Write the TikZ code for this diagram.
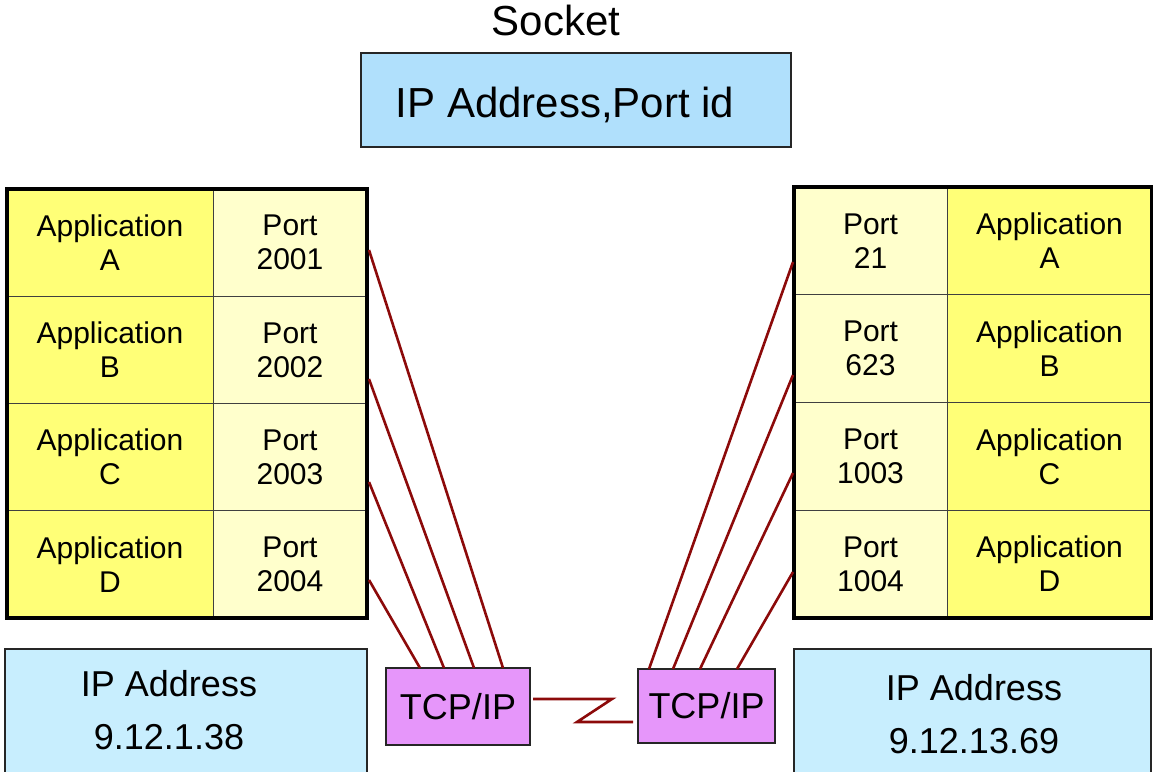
\documentclass[tikz,border=0pt]{standalone}
\usepackage{fontspec}
\setmainfont{Liberation Sans}
\usepackage{xcolor}
\usepackage{tikz}
\usetikzlibrary{positioning}

\begin{document}
\begin{tikzpicture}[x=1pt,y=-1pt]
\definecolor{skyb}{RGB}{176,224,252}
\definecolor{ipb}{RGB}{200,238,254}
\definecolor{appy}{RGB}{255,255,119}
\definecolor{porty}{RGB}{255,255,204}
\definecolor{tcpv}{RGB}{230,150,250}
\definecolor{wire}{RGB}{140,10,10}
\tikzset{
  cell/.style={draw=black!75,line width=1pt,inner sep=0pt,outer sep=0pt,align=center,font=\fontsize{30}{34}\selectfont},
  appL/.style={cell,fill=appy,minimum width=206pt,minimum height=107.25pt},
  portL/.style={cell,fill=porty,minimum width=154pt,minimum height=107.25pt},
  appR/.style={cell,fill=appy,minimum width=205pt,minimum height=107.75pt},
  portR/.style={cell,fill=porty,minimum width=153pt,minimum height=107.75pt},
  tblframe/.style={draw=black,line width=4.5pt},
  bluebox/.style={draw=black!85,line width=1.6pt,inner sep=0pt,outer sep=0pt},
  tcpbox/.style={draw=black!85,line width=2pt,fill=tcpv,inner sep=0pt,outer sep=0pt,font=\fontsize{36}{40}\selectfont},
  iptext/.style={align=center,font=\fontsize{36}{53}\selectfont},
  link/.style={wire,line width=2.6pt}
}
\useasboundingbox (0,0) rectangle (1153,771);
% socket heading
\node[font=\fontsize{42}{46}\selectfont] (socketlbl) at (556,20) {Socket};
\node[bluebox,fill=skyb,minimum width=430pt,minimum height=94pt] (sockbox) at (576,100) {};
\node[font=\fontsize{42}{46}\selectfont] (socktxt) at (565,105) {IP Address,Port id};
% left host table
\node[appL] (aL1) at (110,242.6) {Application\\A};
\node[portL] (pL1) at (290,242.6) {Port\\2001};
\node[appL] (aL2) at (110,349.9) {Application\\B};
\node[portL] (pL2) at (290,349.9) {Port\\2002};
\node[appL] (aL3) at (110,457.1) {Application\\C};
\node[portL] (pL3) at (290,457.1) {Port\\2003};
\node[appL] (aL4) at (110,564.4) {Application\\D};
\node[portL] (pL4) at (290,564.4) {Port\\2004};
\draw[tblframe] (aL1.north west) rectangle (pL4.south east);
% right host table
\node[portR] (pR1) at (870.5,240.9) {Port\\21};
\node[appR] (aR1) at (1049.5,240.9) {Application\\A};
\node[portR] (pR2) at (870.5,348.6) {Port\\623};
\node[appR] (aR2) at (1049.5,348.6) {Application\\B};
\node[portR] (pR3) at (870.5,456.4) {Port\\1003};
\node[appR] (aR3) at (1049.5,456.4) {Application\\C};
\node[portR] (pR4) at (870.5,564.1) {Port\\1004};
\node[appR] (aR4) at (1049.5,564.1) {Application\\D};
\draw[tblframe] (pR1.north west) rectangle (aR4.south east);
% ip address boxes
\node[bluebox,fill=ipb,minimum width=362pt,minimum height=130pt] (ipL) at (186,714) {};
\node[iptext] (ipLtxt) at (169,710) {IP Address\\9.12.1.38};
\node[bluebox,fill=ipb,minimum width=357pt,minimum height=130pt] (ipR) at (972.5,714) {};
\node[iptext] (ipRtxt) at (974,714) {IP Address\\9.12.13.69};
% tcp/ip stacks
\node[tcpbox,minimum width=144pt,minimum height=77pt] (tcpL) at (458,706.5) {TCP/IP};
\node[tcpbox,minimum width=137pt,minimum height=74pt] (tcpR) at (706.5,706) {TCP/IP};
% port wires
\coordinate (sL1) at (369,250);
\coordinate (sL2) at (369,379);
\coordinate (sL3) at (369,482);
\coordinate (sL4) at (369,580);
\coordinate (sR1) at (793,262);
\coordinate (sR2) at (793,375);
\coordinate (sR3) at (793,473);
\coordinate (sR4) at (793,572);
\draw[link] (sL1) -- ([xshift=117pt]tcpL.north west);
\draw[link] (sL2) -- ([xshift=88pt]tcpL.north west);
\draw[link] (sL3) -- ([xshift=58pt]tcpL.north west);
\draw[link] (sL4) -- ([xshift=34pt]tcpL.north west);
\draw[link] (sR1) -- ([xshift=11pt]tcpR.north west);
\draw[link] (sR2) -- ([xshift=35pt]tcpR.north west);
\draw[link] (sR3) -- ([xshift=62pt]tcpR.north west);
\draw[link] (sR4) -- ([xshift=99pt]tcpR.north west);
% link between hosts
\coordinate (zzA) at (612,699);
\coordinate (zzB) at (577,722);
\draw[link] ([xshift=3pt]tcpL.east |- zzA) -- (zzA) -- (zzB) -- ([xshift=-5pt]tcpR.west |- zzB);
\end{tikzpicture}
\end{document}
